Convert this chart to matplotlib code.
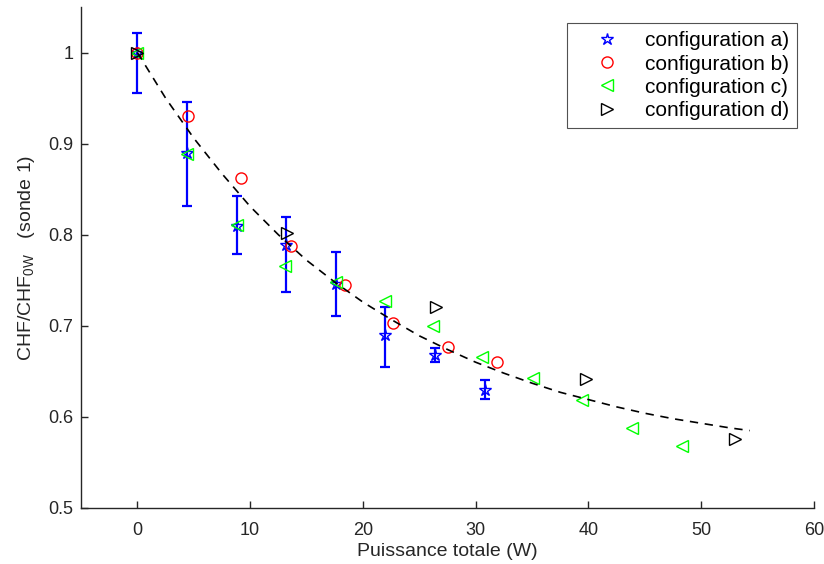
import numpy as np
import matplotlib
matplotlib.use("Agg")
import matplotlib.pyplot as plt

plt.rcParams["font.family"] = ["Liberation Sans", "DejaVu Sans"]
plt.rcParams["mathtext.fontset"] = "custom"
plt.rcParams["mathtext.rm"] = "Liberation Sans"
plt.rcParams["mathtext.it"] = "Liberation Sans"

# --- Data ---
# configuration a) with error bars
xa = [0, 4.4, 8.8, 13.2, 17.6, 22.0, 26.4, 30.8]
ya = [1.0, 0.890, 0.810, 0.789, 0.746, 0.690, 0.668, 0.629]
ya_low = [0.956, 0.831, 0.779, 0.737, 0.711, 0.655, 0.660, 0.620]
ya_high = [1.021, 0.946, 0.843, 0.819, 0.781, 0.721, 0.676, 0.641]

# configuration b)
xb = [0, 4.5, 9.2, 13.6, 18.4, 22.7, 27.5, 31.9]
yb = [1.0, 0.930, 0.862, 0.788, 0.745, 0.703, 0.677, 0.660]

# configuration c)
xc = [0, 4.4, 8.8, 13.1, 17.6, 22.0, 26.2, 30.6, 35.1, 39.4, 43.9, 48.3]
yc = [1.0, 0.889, 0.811, 0.766, 0.748, 0.727, 0.700, 0.666, 0.643, 0.619, 0.588, 0.568]

# configuration d)
xd = [0, 13.3, 26.5, 39.8, 53.0]
yd = [1.0, 0.802, 0.721, 0.642, 0.576]

# dashed trend curve
xfit = [0, 2.5, 5, 7.5, 10, 12.5, 15, 17.5, 20, 22.5, 25, 27.5, 30, 32.5,
        35, 37.5, 40, 42.5, 45, 47.5, 50, 52.5, 54.3]
yfit = [1.0, 0.950, 0.906, 0.867, 0.831, 0.800, 0.772, 0.748, 0.726, 0.707,
        0.689, 0.674, 0.660, 0.648, 0.637, 0.627, 0.619, 0.611, 0.604, 0.598,
        0.593, 0.588, 0.585]

fig = plt.figure(figsize=(8.24, 5.64), dpi=100)
ax = fig.add_axes([0.0983, 0.0993, 0.8896, 0.8883])

ya_arr = np.array(ya)
yerr = [ya_arr - np.array(ya_low), np.array(ya_high) - ya_arr]
ax.errorbar(xa, ya, yerr=yerr, fmt="none", ecolor="blue", elinewidth=1.6,
            capsize=3.5, capthick=1.6, zorder=2)
ax.plot(xa, ya, linestyle="none", marker="*", markersize=9,
        markerfacecolor="none", markeredgecolor="blue", markeredgewidth=1.0,
        label="configuration a)", zorder=3)
ax.plot(xb, yb, linestyle="none", marker="o", markersize=8,
        markerfacecolor="none", markeredgecolor="red", markeredgewidth=1.0,
        label="configuration b)", zorder=3)
ax.plot(xc, yc, linestyle="none", marker="<", markersize=9,
        markerfacecolor="none", markeredgecolor="#00ff00", markeredgewidth=1.0,
        label="configuration c)", zorder=3)
ax.plot(xd, yd, linestyle="none", marker=">", markersize=9,
        markerfacecolor="none", markeredgecolor="black", markeredgewidth=1.0,
        label="configuration d)", zorder=3)
ax.plot(xfit, yfit, color="black", linestyle=(0, (5, 4)), linewidth=1.2, zorder=4)

ax.set_xlim(-5, 60)
ax.set_ylim(0.5, 1.05)
ax.set_xticks([0, 10, 20, 30, 40, 50, 60])
ax.set_yticks([0.5, 0.6, 0.7, 0.8, 0.9, 1.0])
ax.set_yticklabels(["0.5", "0.6", "0.7", "0.8", "0.9", "1"])

ax.spines["top"].set_visible(False)
ax.spines["right"].set_visible(False)
for s in ["left", "bottom"]:
    ax.spines[s].set_linewidth(1.0)
    ax.spines[s].set_color("#262626")
ax.tick_params(direction="in", length=5, width=1.0, labelsize=13,
               colors="#262626")
ax.tick_params(axis="x", pad=10)
ax.tick_params(axis="y", pad=5.5)

ax.set_xlabel("Puissance totale (W)", fontsize=14, color="#262626", labelpad=3)
ax.set_ylabel(r"CHF/CHF$_{\mathregular{0W}}$   (sonde 1)", fontsize=14,
              color="#262626", labelpad=8)

leg = ax.legend(loc="upper right", bbox_to_anchor=(0.977, 0.968), fontsize=15,
                frameon=True, fancybox=False, edgecolor="#262626",
                handlelength=3.05, handletextpad=0.3, borderpad=0.4,
                labelspacing=0.2, borderaxespad=0)
leg.get_frame().set_linewidth(0.8)

fig.savefig("out.png", dpi=100)
